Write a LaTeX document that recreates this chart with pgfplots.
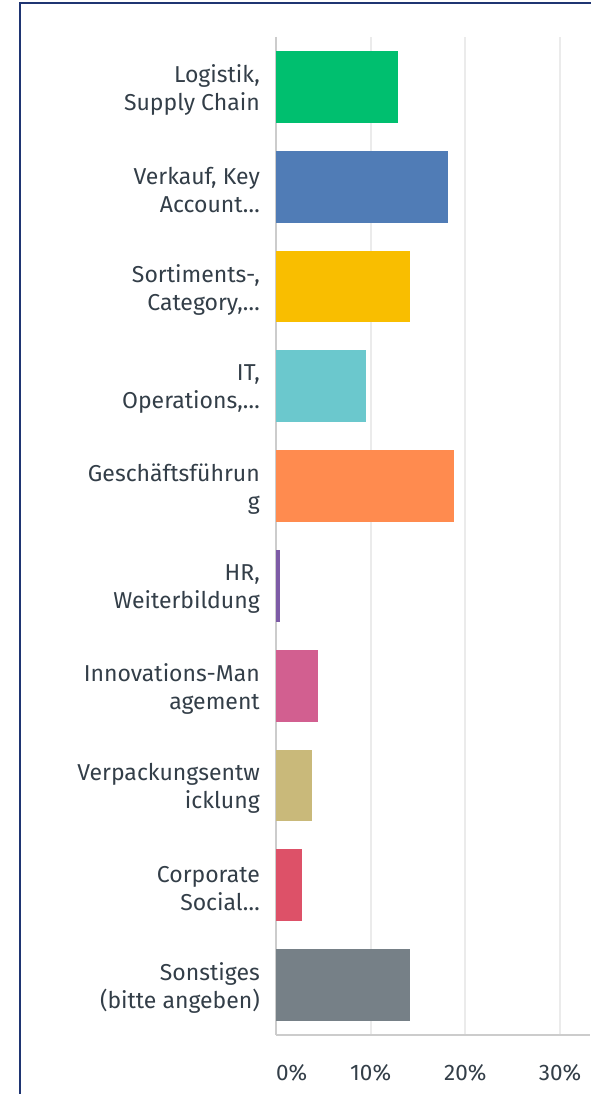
\documentclass[border=0pt]{standalone}
\usepackage{pgfplots}
\pgfplotsset{compat=1.18}
\usepackage{fontspec}
\setmainfont{Fira Sans}
\definecolor{txt}{HTML}{333E48}
\definecolor{frame}{HTML}{1F3572}
\definecolor{c1}{HTML}{00BF6F}
\definecolor{c2}{HTML}{507CB6}
\definecolor{c3}{HTML}{F9BE00}
\definecolor{c4}{HTML}{6BC8CD}
\definecolor{c5}{HTML}{FF8B4F}
\definecolor{c6}{HTML}{7D5BA6}
\definecolor{c7}{HTML}{D25F90}
\definecolor{c8}{HTML}{C9B97A}
\definecolor{c9}{HTML}{DD5168}
\definecolor{c10}{HTML}{768087}
\begin{document}
\begin{tikzpicture}[x=1pt,y=1pt]
\useasboundingbox (0,0) rectangle (590,1094);
\begin{axis}[
  at={(276pt,59pt)}, anchor=south west,
  scale only axis, width=314pt, height=998pt,
  xmin=0, xmax=33.17,
  ymin=-0.5, ymax=9.5, y dir=reverse,
  axis x line=bottom, axis y line=left,
  axis line style={draw=black!20, line width=1.5pt, -},
  xtick={0,10,20,30},
  xticklabels={\makebox[0pt][l]{0\%},10\%,20\%,30\%},
  xmajorgrids, grid style={draw=black!8, line width=2pt},
  major tick length=0pt,
  ytick={0,...,9},
  yticklabels={{Logistik,\\Supply Chain},{Verkauf, Key\\Account…},{Sortiments-,\\Category,…},{IT,\\Operations,…},{Geschäftsführun\\g},{HR,\\Weiterbildung},{Innovations-Man\\agement},{Verpackungsentw\\icklung},{Corporate\\Social…},{Sonstiges\\(bitte angeben)}},
  yticklabel style={align=right, anchor=east, inner sep=0pt, xshift=-16pt, yshift=-3pt, font=\fontsize{23}{28}\selectfont, text=txt},
  xticklabel style={anchor=north, inner sep=0pt, yshift=-29pt, font=\fontsize{22.5}{24}\selectfont, text=txt},
  /pgf/number format/assume math mode=true,
  xbar, bar width=0.72, bar shift=0pt,
  clip=false,
]
\addplot[draw=none, fill=c1] coordinates {(12.9,0)};
\addplot[draw=none, fill=c2] coordinates {(18.2,1)};
\addplot[draw=none, fill=c3] coordinates {(14.2,2)};
\addplot[draw=none, fill=c4] coordinates {(9.5,3)};
\addplot[draw=none, fill=c5] coordinates {(18.8,4)};
\addplot[draw=none, fill=c6] coordinates {(0.4,5)};
\addplot[draw=none, fill=c7] coordinates {(4.4,6)};
\addplot[draw=none, fill=c8] coordinates {(3.8,7)};
\addplot[draw=none, fill=c9] coordinates {(2.7,8)};
\addplot[draw=none, fill=c10] coordinates {(14.2,9)};
\end{axis}
\draw[frame, line width=2pt] (20,-5) -- (20,1091) -- (600,1091);
\end{tikzpicture}
\end{document}
